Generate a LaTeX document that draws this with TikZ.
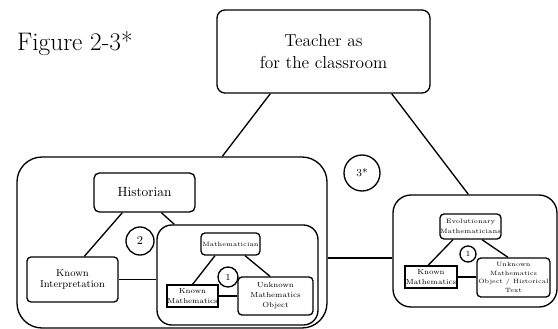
\documentclass[tikz,border=0pt]{standalone}
\usepackage{tikz}
\usetikzlibrary{calc}

\begin{document}
\begin{tikzpicture}[x=0.75pt,y=-0.75pt,line width=1pt,
	box/.style={draw,rounded corners=3pt,align=center,inner sep=0pt},
	sharpbox/.style={draw,align=center,inner sep=0pt},
	frame/.style={draw,inner sep=0pt},
	num/.style={draw,circle,fill=white,inner sep=0pt}]
	\useasboundingbox (0,0) rectangle (558,329);
	\node[anchor=base west,font=\fontsize{19}{22}\selectfont] (fig) at (12,50) {Figure 2-3*};
	% outer frames
	\node[frame,rounded corners=18.75pt,minimum width=232.5pt,minimum height=128.25pt] (hbox) at (172,242.5) {};
	\node[frame,rounded corners=11pt,minimum width=120.75pt,minimum height=75pt] (mbox) at (237.5,275) {};
	\node[frame,rounded corners=13.5pt,minimum width=123pt,minimum height=84pt] (rbox) at (475,251) {};
	% boxes
	\node[box,rounded corners=6pt,minimum width=159.75pt,minimum height=62.25pt,font=\fontsize{13}{17}\selectfont] (teacher) at (323.5,51.5) {Teacher as\\for the classroom};
	\node[box,rounded corners=4pt,minimum width=75.75pt,minimum height=29.25pt,font=\fontsize{10}{12}\selectfont] (hist) at (144.5,192.5) {Historian};
	\node[box,minimum width=68.25pt,minimum height=33.75pt,font=\fontsize{7.5}{8.5}\selectfont] (ki) at (72.5,279.5) {Known\\Interpretation};
	\node[box,minimum width=44.25pt,minimum height=16.5pt,font=\fontsize{4.7}{6}\selectfont] (math) at (230.5,244) {Mathematician};
	\node[sharpbox,line width=0.8pt,minimum width=38.25pt,minimum height=16.5pt,font=\fontsize{5.5}{7.5}\selectfont] (km1) at (192.5,296) {Known\\Mathematics};
	\node[box,minimum width=56.25pt,minimum height=28.5pt,font=\fontsize{5.5}{7.5}\selectfont] (umo1) at (275.5,296) {Unknown\\Mathematics\\Object};
	\node[box,minimum width=45.75pt,minimum height=18.75pt,font=\fontsize{4.8}{7.5}\selectfont] (evo) at (470.5,226.5) {Evolutionary\\Mathematicians};
	\node[sharpbox,line width=0.8pt,minimum width=39pt,minimum height=16.5pt,font=\fontsize{5.5}{7.5}\selectfont] (km2) at (431,277) {Known\\Mathematics};
	\node[box,minimum width=54.75pt,minimum height=29.25pt,font=\fontsize{4.6}{6.6}\selectfont] (umo2) at (513.5,277.5) {Unknown\\Mathematics\\Object / Historical\\Text};
	% connectors
	\draw ($(teacher.south west)+(54,0)$) -- ($(hbox.north west)+(206,0)$);
	\draw ($(teacher.south east)+(-39,0)$) -- ($(rbox.north west)+(76,0)$);
	\draw ($(hist.south west)+(29,0)$) -- ($(ki.north west)+(58,0)$);
	\draw ($(hist.south west)+(68,0)$) -- ($(mbox.north west)+(18,0)$);
	\draw (ki.east) -- (ki.east -| mbox.west);
	\coordinate (link) at (360,258);
	\draw (hbox.east |- link) -- (rbox.west |- link);
	\draw ($(math.south)+(-15.5,0)$) -- (km1.north);
	\draw ($(math.south)+(14.5,0)$) -- ($(umo1.north)+(-5.5,0)$);
	\draw (km1.east) -- (km1.east -| umo1.west);
	\draw ($(evo.south)+(-17.5,0)$) -- ($(km2.north)+(-3,0)$);
	\draw ($(evo.south)+(11.5,0)$) -- ($(umo2.north)+(-5.5,0)$);
	\draw (km2.east) -- (km2.east -| umo2.west);
	% numbered circles
	\node[num,minimum size=21pt,font=\fontsize{9}{10}\selectfont] (c2) at (140,241) {2};
	\node[num,minimum size=15pt,font=\fontsize{7}{8}\selectfont] (c1a) at (228,277) {1};
	\node[num,minimum size=27pt,font=\fontsize{8}{9}\selectfont] (c3) at (362,173) {3*};
	\node[num,minimum size=12pt,font=\fontsize{6}{7}\selectfont] (c1b) at (468,254) {1};
\end{tikzpicture}
\end{document}
